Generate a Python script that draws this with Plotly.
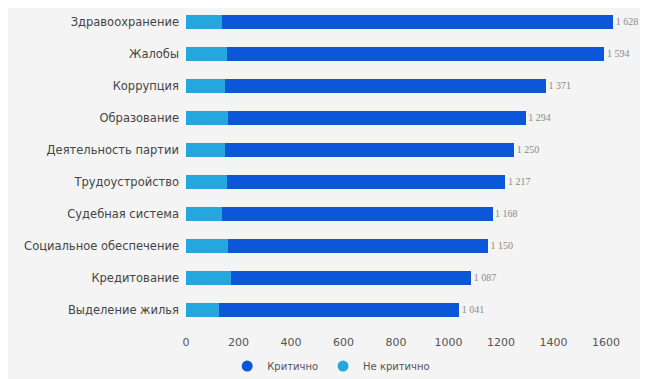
import plotly.graph_objects as go

# categories, top to bottom
categories = ["Здравоохранение", "Жалобы", "Коррупция", "Образование",
              "Деятельность партии", "Трудоустройство", "Судебная система",
              "Социальное обеспечение", "Кредитование", "Выделение жилья"]
totals = [1628, 1594, 1371, 1294, 1250, 1217, 1168, 1150, 1087, 1041]
not_critical = [138, 157, 148, 160, 148, 155, 137, 160, 170, 124]
critical = [t - n for t, n in zip(totals, not_critical)]
tick_vals = [0, 200, 400, 600, 800, 1000, 1200, 1400, 1600]

dark = "#0b57d8"
light = "#25a7dd"
bg = "#f4f4f4"

fig = go.Figure()
fig.add_trace(go.Bar(y=categories, x=not_critical, orientation="h",
                     marker=dict(color=light, line=dict(width=0)),
                     name="Не критично", showlegend=False, hoverinfo="x+y"))
fig.add_trace(go.Bar(y=categories, x=critical, orientation="h",
                     marker=dict(color=dark, line=dict(width=0)),
                     name="Критично", showlegend=False, hoverinfo="x+y"))

# totals at bar ends, "1 628" style, small gap after the bar
labels = ["\u00a0" + f"{t:,}".replace(",", " ") for t in totals]
fig.add_trace(go.Scatter(y=categories, x=totals, mode="text", text=labels,
                         textposition="middle right", cliponaxis=False,
                         textfont=dict(family="Liberation Serif", size=10, color="#8a8a8a"),
                         showlegend=False, hoverinfo="skip"))

# legend entries with round markers
for name, col in [("Критично", dark), ("Не критично", light)]:
    fig.add_trace(go.Scatter(x=[None], y=[None], mode="markers", name=name,
                             marker=dict(symbol="circle", size=11, color=col)))

# page body has an 8px margin, so the figure is sized to fit the window
fig.update_layout(
    width=640, height=371,
    margin=dict(l=178, r=0, t=0, b=53),
    barmode="stack", bargap=0.55,
    plot_bgcolor=bg, paper_bgcolor=bg,
    font=dict(family="DejaVu Sans", size=11, color="#555555"),
    legend=dict(orientation="h", xref="container", yref="container",
                x=0.505, xanchor="center", y=0.035, yanchor="middle",
                traceorder="normal",
                font=dict(size=10, color="#555555"), itemwidth=30,
                bgcolor="rgba(0,0,0,0)"),
)
fig.update_xaxes(range=[0, 1760], tickvals=tick_vals, showgrid=False,
                 zeroline=False, showline=False, ticks="", ticklabelstandoff=8,
                 tickfont=dict(size=11, color="#555555"))
fig.update_yaxes(range=[9.5, -0.44], showgrid=False, zeroline=False,
                 ticks="", ticklabelstandoff=6,
                 tickfont=dict(size=11.5, color="#444444"))

fig.write_html("out.html")
